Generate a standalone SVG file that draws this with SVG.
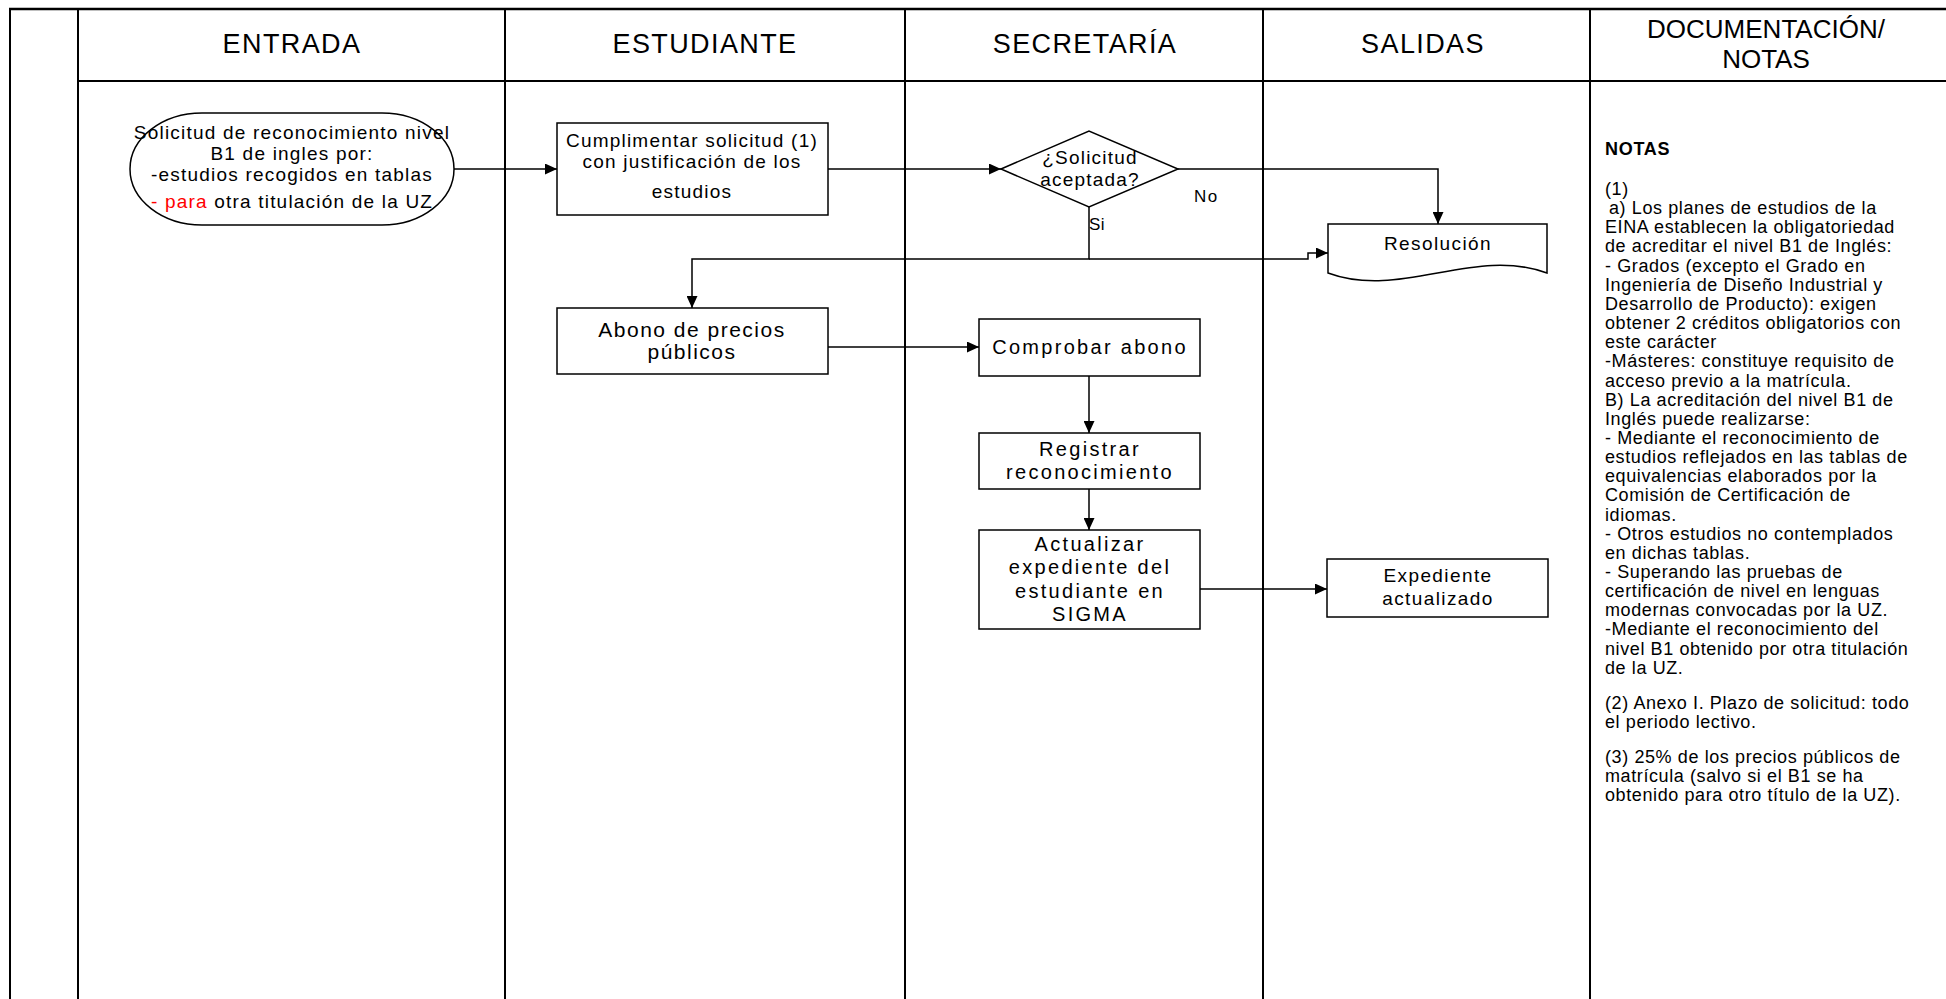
<svg xmlns="http://www.w3.org/2000/svg" width="1946" height="999" viewBox="0 0 1946 999">
<style>
text{font-family:"Liberation Sans",Arial,sans-serif;fill:#000}
.lane{stroke:#000;stroke-width:2;fill:none}
.box{fill:#fff;stroke:#000;stroke-width:1.5}
.conn{fill:none;stroke:#000;stroke-width:1.5;marker-end:url(#arr)}
.hdr{font-size:27px;letter-spacing:1.4px;text-anchor:middle}
.t18{font-size:19px;letter-spacing:1.2px;text-anchor:middle}
.t19{font-size:20px;letter-spacing:2.3px;text-anchor:middle}
.t20{font-size:21px;letter-spacing:1.5px;text-anchor:middle}
.lbl{font-size:17px;letter-spacing:1.5px}
.note{font-size:18px;letter-spacing:0.6px}
</style>
<defs>
<marker id="arr" markerUnits="userSpaceOnUse" markerWidth="12" markerHeight="11" refX="12" refY="5.5" orient="auto">
<path d="M0,0 L12,5.5 L0,11 z" fill="#000"/>
</marker>
</defs>
<rect width="1946" height="999" fill="#fff"/>
<g id="table">
<line x1="9" y1="9" x2="1946" y2="9" stroke="#000" stroke-width="2.5"/>
<line class="lane" x1="78" y1="81" x2="1946" y2="81"/>
<line class="lane" x1="10" y1="8" x2="10" y2="999"/>
<line class="lane" x1="78" y1="8" x2="78" y2="999"/>
<line class="lane" x1="505" y1="8" x2="505" y2="999"/>
<line class="lane" x1="905" y1="8" x2="905" y2="999"/>
<line class="lane" x1="1263" y1="8" x2="1263" y2="999"/>
<line class="lane" x1="1590" y1="8" x2="1590" y2="999"/>
<text class="hdr" x="292" y="53">ENTRADA</text>
<text class="hdr" x="705" y="53">ESTUDIANTE</text>
<text class="hdr" x="1085" y="53">SECRETARÍA</text>
<text class="hdr" x="1423" y="53">SALIDAS</text>
<text class="hdr" x="1766" y="38" style="font-size:26px;letter-spacing:0px">DOCUMENTACIÓN/</text>
<text class="hdr" x="1766" y="68" style="font-size:26px;letter-spacing:0px">NOTAS</text>
</g>
<g id="connectors">
<path class="conn" d="M454,169 H557"/>
<path class="conn" d="M828,169 H1001"/>
<path class="conn" d="M1178,169 H1438 V224"/>
<path class="conn" d="M1089,207 V259 H692 V308"/>
<path class="conn" d="M1089,259 H1308 V253 H1328"/>
<path class="conn" d="M828,347 H979"/>
<path class="conn" d="M1089,376 V433"/>
<path class="conn" d="M1089,489 V530"/>
<path class="conn" d="M1200,589 H1327"/>
<text class="lbl" x="1194" y="202">No</text>
<text class="lbl" x="1089" y="230" style="letter-spacing:0.5px">Si</text>
</g>
<g id="n-solicitud">
<rect class="box" x="130" y="113" width="324" height="112" rx="72" ry="56"/>
<text class="t18" x="292" y="139">Solicitud de reconocimiento nivel</text>
<text class="t18" x="292" y="160">B1 de ingles por:</text>
<text class="t18" x="292" y="181">-estudios recogidos en tablas</text>
<text class="t18" x="292" y="208"><tspan fill="#f00">- para</tspan> otra titulación de la UZ</text>
</g>
<g id="n-cumplimentar">
<rect class="box" x="557" y="123" width="271" height="92"/>
<text class="t18" x="692" y="147">Cumplimentar solicitud (1)</text>
<text class="t18" x="692" y="168">con justificación de los</text>
<text class="t18" x="692" y="198">estudios</text>
</g>
<g id="n-decision">
<polygon class="box" points="1001,169 1089,131 1178,169 1089,207"/>
<text class="t18" x="1090" y="164">¿Solicitud</text>
<text class="t18" x="1090" y="186">aceptada?</text>
</g>
<g id="n-resolucion">
<path class="box" d="M1328,224 H1547 V273 C1474,246 1401,300 1328,273 Z"/>
<text class="t18" x="1438" y="250" style="letter-spacing:1.4px">Resolución</text>
</g>
<g id="n-abono">
<rect class="box" x="557" y="308" width="271" height="66"/>
<text class="t20" x="692" y="337">Abono de precios</text>
<text class="t20" x="692" y="359">públicos</text>
</g>
<g id="n-comprobar">
<rect class="box" x="979" y="319" width="221" height="57"/>
<text class="t19" x="1090" y="354">Comprobar abono</text>
</g>
<g id="n-registrar">
<rect class="box" x="979" y="433" width="221" height="56"/>
<text class="t19" x="1090" y="456">Registrar</text>
<text class="t19" x="1090" y="479">reconocimiento</text>
</g>
<g id="n-actualizar">
<rect class="box" x="979" y="530" width="221" height="99"/>
<text class="t19" x="1090" y="551">Actualizar</text>
<text class="t19" x="1090" y="574">expediente del</text>
<text class="t19" x="1090" y="598">estudiante en</text>
<text class="t19" x="1090" y="621">SIGMA</text>
</g>
<g id="n-expediente">
<rect class="box" x="1327" y="559" width="221" height="58"/>
<text class="t18" x="1438" y="582" style="letter-spacing:1.4px">Expediente</text>
<text class="t18" x="1438" y="605" style="letter-spacing:1.4px">actualizado</text>
</g>
<g id="n-notas">
<text x="1605" y="155" style="font-size:18px;font-weight:bold;letter-spacing:0.7px">NOTAS</text>
<text class="note" x="1605" y="195">
<tspan x="1605" y="195">(1)</tspan>
<tspan x="1609" dy="19.15">a) Los planes de estudios de la</tspan>
<tspan x="1605" dy="19.15">EINA establecen la obligatoriedad</tspan>
<tspan x="1605" dy="19.15">de acreditar el nivel B1 de Inglés:</tspan>
<tspan x="1605" dy="19.15">- Grados (excepto el Grado en</tspan>
<tspan x="1605" dy="19.15">Ingeniería de Diseño Industrial y</tspan>
<tspan x="1605" dy="19.15">Desarrollo de Producto): exigen</tspan>
<tspan x="1605" dy="19.15">obtener 2 créditos obligatorios con</tspan>
<tspan x="1605" dy="19.15">este carácter</tspan>
<tspan x="1605" dy="19.15">-Másteres: constituye requisito de</tspan>
<tspan x="1605" dy="19.15">acceso previo a la matrícula.</tspan>
<tspan x="1605" dy="19.15">B) La acreditación del nivel B1 de</tspan>
<tspan x="1605" dy="19.15">Inglés puede realizarse:</tspan>
<tspan x="1605" dy="19.15">- Mediante el reconocimiento de</tspan>
<tspan x="1605" dy="19.15">estudios reflejados en las tablas de</tspan>
<tspan x="1605" dy="19.15">equivalencias elaborados por la</tspan>
<tspan x="1605" dy="19.15">Comisión de Certificación de</tspan>
<tspan x="1605" dy="19.15">idiomas.</tspan>
<tspan x="1605" dy="19.15">- Otros estudios no contemplados</tspan>
<tspan x="1605" dy="19.15">en dichas tablas.</tspan>
<tspan x="1605" dy="19.15">- Superando las pruebas de</tspan>
<tspan x="1605" dy="19.15">certificación de nivel en lenguas</tspan>
<tspan x="1605" dy="19.15">modernas convocadas por la UZ.</tspan>
<tspan x="1605" dy="19.15">-Mediante el reconocimiento del</tspan>
<tspan x="1605" dy="19.15">nivel B1 obtenido por otra titulación</tspan>
<tspan x="1605" dy="19.15">de la UZ.</tspan>
<tspan x="1605" dy="35">(2) Anexo I. Plazo de solicitud: todo</tspan>
<tspan x="1605" dy="19.15">el periodo lectivo.</tspan>
<tspan x="1605" dy="35">(3) 25% de los precios públicos de</tspan>
<tspan x="1605" dy="19.15">matrícula (salvo si el B1 se ha</tspan>
<tspan x="1605" dy="19.15">obtenido para otro título de la UZ).</tspan>
</text>
</g>
</svg>
